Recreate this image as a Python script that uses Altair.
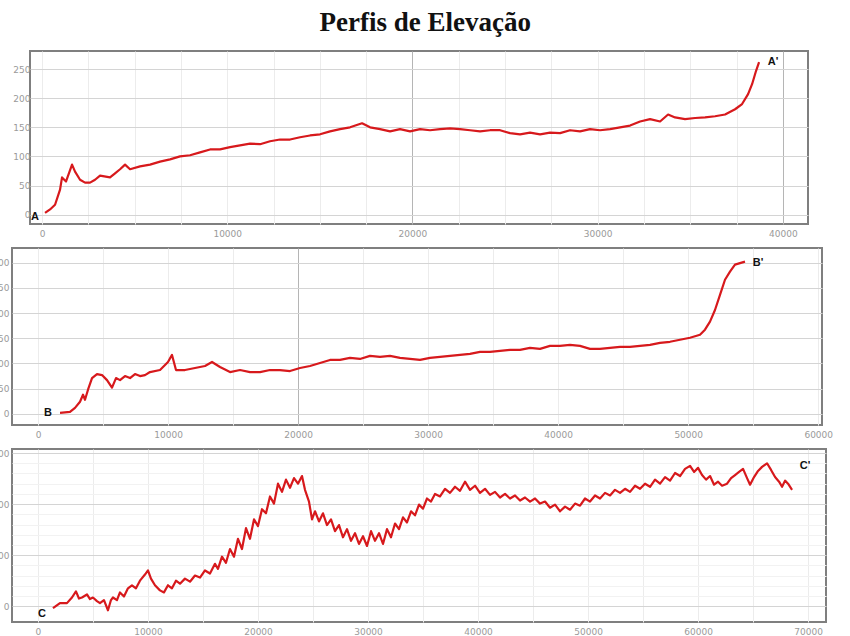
import altair as alt
import pandas as pd

# ---------------- Data (distance in m, elevation in m) ----------------
a_dist = [162, 432, 702, 972, 1080, 1296, 1620, 1782, 2052, 2322, 2592, 2862, 3132, 3672, 3942,
          4212, 4482, 4752, 5292, 5832, 6372, 6912, 7452, 7992, 8532, 9072, 9612, 10152, 10692,
          11232, 11772, 12312, 12852, 13392, 13932, 14472, 15012, 15552, 16092, 16632, 17280,
          17712, 18252, 18792, 19332, 19872, 20412, 20952, 21492, 22032, 22572, 23112, 23652,
          24192, 24732, 25272, 25812, 26352, 26892, 27432, 27972, 28512, 29052, 29592, 30132,
          30672, 31212, 31752, 32292, 32832, 33372, 33804, 34182, 34722, 35262, 35802, 36342,
          36882, 37422, 37800, 38124, 38340, 38556, 38718]
a_elev = [3, 9, 17, 43, 64, 57, 86, 74, 60, 55, 55, 60, 67, 64, 71,
          78, 86, 78, 83, 86, 91, 95, 100, 102, 107, 112, 112, 116, 119,
          122, 121, 126, 129, 129, 133, 136, 138, 143, 147, 150, 157,
          150, 147, 143, 147, 143, 147, 145, 147, 148, 147, 145, 143,
          145, 145, 140, 138, 141, 138, 141, 140, 145, 143, 147, 145,
          147, 150, 153, 160, 164, 160, 172, 167, 164, 166, 167, 169,
          172, 181, 190, 207, 224, 247, 262]

b_dist = [1692, 2461, 2845, 3230, 3461, 3614, 3845, 4153, 4537, 4922, 5306, 5691, 5998, 6306,
          6690, 7075, 7459, 7844, 8228, 8613, 9382, 9997, 10305, 10612, 11304, 12073, 12842,
          13381, 13996, 14765, 15534, 16303, 17072, 17841, 18610, 19379, 20148, 20917, 21686,
          22455, 23224, 23993, 24762, 25531, 26300, 27069, 27838, 28607, 29376, 30145, 30914,
          31683, 32452, 33221, 33990, 34759, 35528, 36297, 37066, 37835, 38604, 39373, 40142,
          40911, 41680, 42449, 43218, 43987, 44756, 45525, 46294, 47063, 47832, 48601, 49370,
          50139, 50908, 51292, 51677, 52061, 52446, 52830, 53215, 53599, 54368]
b_elev = [2, 4, 12, 24, 38, 28, 48, 71, 79, 77, 67, 52, 71, 67,
          75, 71, 79, 75, 77, 83, 87, 103, 117, 87, 87, 91, 95,
          103, 93, 83, 87, 83, 83, 87, 87, 85, 91, 95, 101,
          107, 107, 111, 109, 115, 113, 115, 111, 109, 107, 111, 113,
          115, 117, 119, 123, 123, 125, 127, 127, 131, 129, 135, 135,
          137, 135, 129, 129, 131, 133, 133, 135, 137, 141, 143, 147,
          151, 157, 167, 183, 206, 236, 266, 282, 296, 302]

c_dist = [1364, 2000, 2636, 3091, 3454, 3727, 4000, 4454, 4727, 5000, 5363, 5636, 6000, 6363,
          6636, 6818, 7181, 7454, 7818, 8181, 8545, 8909, 9272, 9727, 10000, 10272, 10636,
          11090, 11454, 11818, 12181, 12545, 12909, 13363, 13818, 14272, 14727, 15181, 15636,
          16090, 16363, 16727, 17090, 17454, 17818, 18181, 18545, 18909, 19272, 19636, 20000,
          20363, 20727, 21090, 21454, 21818, 22181, 22545, 22909, 23272, 23636, 24000, 24272,
          24636, 24909, 25181, 25545, 25909, 26272, 26636, 27000, 27363, 27727, 28090, 28454,
          28818, 29181, 29545, 29909, 30272, 30636, 31000, 31363, 31727, 32090, 32454, 32818,
          33181, 33545, 33909, 34272, 34636, 35000, 35363, 35727, 36090, 36545, 37000, 37454,
          37909, 38363, 38818, 39272, 39727, 40181, 40636, 41090, 41545, 42000, 42454, 42909,
          43363, 43818, 44272, 44727, 45181, 45636, 46090, 46545, 47000, 47454, 47909, 48363,
          48818, 49272, 49727, 50181, 50636, 51090, 51545, 52000, 52454, 52909, 53363, 53818,
          54272, 54727, 55181, 55636, 56090, 56545, 57000, 57454, 57909, 58363, 58818, 59272,
          59636, 60000, 60363, 60727, 61090, 61454, 61818, 62181, 62636, 63000, 63363, 63727,
          64090, 64454, 64727, 65090, 65454, 65818, 66272, 66636, 67000, 67363, 67636, 67909,
          68181, 68545]
c_elev = [-4, 6, 6, 17, 29, 15, 17, 23, 14, 17, 10, 6, 12, -8,
          12, 17, 12, 27, 19, 35, 41, 35, 50, 62, 70, 54, 41,
          31, 27, 41, 35, 50, 44, 54, 48, 60, 56, 70, 64,
          83, 73, 97, 85, 112, 97, 132, 112, 153, 132, 170, 157,
          190, 182, 215, 201, 240, 224, 248, 232, 251, 240, 255, 228,
          205, 170, 186, 166, 182, 159, 170, 147, 159, 135, 151, 128,
          143, 122, 137, 118, 147, 128, 143, 122, 151, 135, 162, 151,
          174, 164, 186, 178, 199, 191, 211, 205, 220, 215, 230, 222,
          234, 226, 244, 228, 236, 222, 230, 218, 224, 213, 220, 211,
          217, 207, 213, 205, 211, 201, 205, 193, 199, 186, 195, 189,
          201, 197, 211, 205, 217, 211, 222, 217, 228, 222, 230, 224,
          236, 230, 240, 234, 248, 240, 253, 246, 261, 255, 269, 275,
          263, 271, 257, 248, 255, 238, 244, 236, 240, 251, 257, 263,
          269, 251, 238, 253, 265, 273, 280, 267, 253, 244, 234, 246,
          240, 228]

TITLE = "Perfis de Elevação"

LINE_COLOR = "#d7191c"
GRID_MAJOR = "#d4d4d4"
GRID_MINOR = "#ececec"


def panel(dist, elev, xdom, ydom, xstep, xmajor, xdark, ystep_vals, ymajor,
          w, h, lbl0, lbl1, off0, off1, ypad):
    df = pd.DataFrame({"d": dist, "e": elev})
    xvals = list(range(0, int(xdom[1]) + 1, xstep))
    dark_test = " || ".join(f"datum.value === {v}" for v in xdark) if xdark else "false"
    x = alt.X(
        "d:Q",
        scale=alt.Scale(domain=xdom, nice=False, zero=False),
        axis=alt.Axis(
            values=xvals, format="d", title=None, ticks=False, domain=False,
            labelExpr=f"datum.value % {xmajor} === 0 ? datum.label : ''",
            gridColor={"condition": {"test": dark_test, "value": "#b5b5b5"},
                       "value": GRID_MINOR},
            labelPadding=5,
        ),
    )
    y = alt.Y(
        "e:Q",
        scale=alt.Scale(domain=ydom, nice=False, zero=False),
        axis=alt.Axis(
            values=ystep_vals, title=None, ticks=False, domain=False,
            labelExpr=f"datum.value % {ymajor} === 0 ? datum.label : ''",
            gridColor={"condition": {"test": f"datum.value % {ymajor} === 0",
                                     "value": GRID_MAJOR},
                       "value": "#f2f2f2"},
            labelPadding=ypad,
        ),
    )
    line = alt.Chart(df).mark_line(color=LINE_COLOR, strokeWidth=2.2,
                                   strokeJoin="round").encode(x=x, y=y)
    start = alt.Chart(pd.DataFrame({"d": [dist[0]], "e": [elev[0]], "t": [lbl0]})).mark_text(
        dx=off0[0], dy=off0[1], font="Liberation Sans", fontSize=11, fontWeight="bold",
        color="#111111").encode(x=x, y=y, text="t:N")
    end = alt.Chart(pd.DataFrame({"d": [dist[-1]], "e": [elev[-1]], "t": [lbl1]})).mark_text(
        dx=off1[0], dy=off1[1], font="Liberation Sans", fontSize=11, fontWeight="bold",
        color="#111111").encode(x=x, y=y, text="t:N")
    return alt.layer(line, start, end).properties(width=w, height=h)


pa = panel(a_dist, a_elev, [-650, 41360], [-16, 281], 2500, 10000, [20000, 40000],
           [0, 50, 100, 150, 200, 250], 50, 778, 173, "A", "A'", (-10, 4), (14, 0), 0)
pb = panel(b_dist, b_elev, [-2000, 60290], [-22, 329], 5000, 10000, [20000],
           [0, 50, 100, 150, 200, 250, 300], 50, 810, 177, "B", "B'", (-12, 0), (13, 1), 3)
pc = panel(c_dist, c_elev, [-2360, 71630], [-31, 308], 5000, 10000, [],
           [0, 20, 40, 60, 80, 100, 120, 140, 160, 180, 200, 220, 240, 260, 280, 300], 100,
           814, 173, "C", "C'", (-11, 6), (13, -24), 3)

# an empty, invisible spacer pushes panel A's plot area to the right
spacer = alt.Chart(pd.DataFrame({"v": [0]})).mark_point(opacity=0).encode(
    x=alt.X("v:Q", axis=None), y=alt.Y("v:Q", axis=None)
).properties(width=1, height=173, view=alt.ViewBackground(stroke="transparent"))

row_a = alt.hconcat(spacer, pa, spacing=-6)

chart = alt.vconcat(row_a, pb, pc, spacing=8).properties(
    title=alt.TitleParams(TITLE, font="Liberation Serif", fontSize=27, fontWeight="bold",
                          color="#111111", anchor="middle", offset=13, dx=13),
    padding={"left": -10, "top": 9, "right": 0, "bottom": 0},
    background="white",
).configure_view(
    stroke="#7f7f7f", strokeWidth=2
).configure_axis(
    labelColor="#9a9a9a", labelFont="DejaVu Sans", labelFontSize=9, gridWidth=1
)

chart.save("out.html", embed_options={"renderer": "svg", "actions": False})
